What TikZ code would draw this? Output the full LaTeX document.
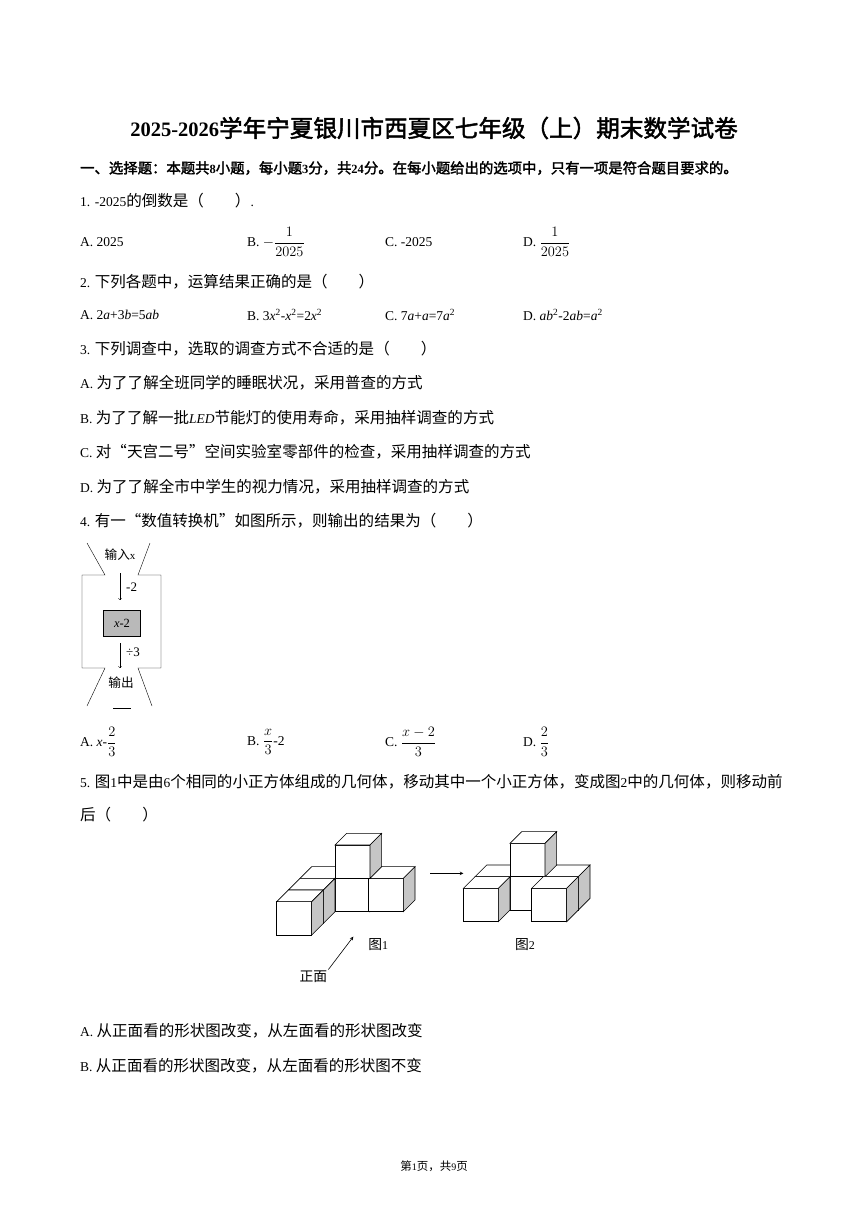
\documentclass[tikz,border=0pt]{standalone}
\usepackage{fontspec}
\setmainfont{Liberation Serif}
\newfontfamily\cjk[AutoFakeBold=2,Scale=1.15]{Noto Sans CJK SC}
\newcommand\mycube[2]{%
  \filldraw[fill=white] (#1,#2) rectangle ++(105,-100);
  \filldraw[fill=white] (#1,#2-100) -- ++(35,-35) -- ++(105,0) -- ++(-35,35) -- cycle;
  \filldraw[fill=gray!45] (#1+105,#2) -- ++(0,-100) -- ++(35,-35) -- ++(0,100) -- cycle;}
\tikzset{txt/.style={anchor=west,inner sep=0pt,font=\fontsize{13.5}{15}\selectfont}}
\begin{document}
\begin{tikzpicture}[x=1pt,y=-1pt]
\useasboundingbox[fill=white] (0,0) rectangle (868,1227);
\node[inner sep=0pt,font=\fontsize{20.5}{24}\selectfont\bfseries] (title) at (434,128) {2025-2026{\cjk 学年宁夏银川市西夏区七年级（上）期末数学试卷}};
\node[txt,font=\fontsize{12.5}{15}\selectfont\bfseries] (sec) at (80,168) {\cjk 一、选择题：本题共\rmfamily 8\cjk 小题，每小题\rmfamily 3\cjk 分，共\rmfamily 24\cjk 分。在每小题给出的选项中，只有一项是符合题目要求的。};
\node[txt] (q1) at (80,201) {1. -2025{\cjk 的倒数是（\quad\quad）}.};
\node[txt] (q1a) at (80,242) {A. 2025};
\node[txt] (q1b) at (247,242) {B. $-\displaystyle\frac{1}{2025}$};
\node[txt] (q1c) at (385,242) {C. -2025};
\node[txt] (q1d) at (523,242) {D. $\displaystyle\frac{1}{2025}$};
\node[txt] (q2) at (80,282) {2. {\cjk 下列各题中，运算结果正确的是（\quad\quad）}};
\node[txt] (q2a) at (80,315) {A. 2\textit{a}+3\textit{b}=5\textit{ab}};
\node[txt] (q2b) at (247,315) {B. 3\textit{x}\textsuperscript{2}-\textit{x}\textsuperscript{2}=2\textit{x}\textsuperscript{2}};
\node[txt] (q2c) at (385,315) {C. 7\textit{a}+\textit{a}=7\textit{a}\textsuperscript{2}};
\node[txt] (q2d) at (523,315) {D. \textit{ab}\textsuperscript{2}-2\textit{ab}=\textit{a}\textsuperscript{2}};
\node[txt] (q3) at (80,349) {3. {\cjk 下列调查中，选取的调查方式不合适的是（\quad\quad）}};
\node[txt] (q3a) at (80,383) {A. {\cjk 为了了解全班同学的睡眠状况，采用普查的方式}};
\node[txt] (q3b) at (80,418) {B. {\cjk 为了了解一批}\textit{LED}{\cjk 节能灯的使用寿命，采用抽样调查的方式}};
\node[txt] (q3c) at (80,452) {C. {\cjk 对“天宫二号”空间实验室零部件的检查，采用抽样调查的方式}};
\node[txt] (q3d) at (80,487) {D. {\cjk 为了了解全市中学生的视力情况，采用抽样调查的方式}};
\node[txt] (q4) at (80,521) {4. {\cjk 有一“数值转换机”如图所示，则输出的结果为（\quad\quad）}};
% flowchart
\draw (87,543) -- (105,575) -- (82,575) -- (82,668) -- (105,668) -- (87,706);
\draw (150,543) -- (138,575) -- (161,575) -- (161,668) -- (138,668) -- (152,706);
\node[inner sep=0pt,font=\fontsize{11}{14}\selectfont] (in) at (120,555) {{\cjk 输入}x};
\node[draw,fill=gray!55,minimum width=37pt,minimum height=26pt,inner sep=0pt,font=\fontsize{12.5}{14}\selectfont] (box) at (122,623) {\textit{x}-2};
\node[inner sep=0pt,font=\fontsize{11}{14}\selectfont] (out) at (121,683) {\cjk 输出};
\draw[->] (120,573) -- (120,600);
\node[txt,font=\fontsize{13}{14}\selectfont] (m2) at (126,587) {-2};
\draw[->] (120,643) -- (120,668);
\node[txt,font=\fontsize{13}{14}\selectfont] (d3) at (126,652) {÷3};
\draw (113,708) -- (131,708);
\node[txt] (q4a) at (80,742) {A. \textit{x}-$\displaystyle\frac{2}{3}$};
\node[txt] (q4b) at (247,742) {B. $\displaystyle\frac{x}{3}$-2};
\node[txt] (q4c) at (385,742) {C. $\displaystyle\frac{x-2}{3}$};
\node[txt] (q4d) at (523,742) {D. $\displaystyle\frac{2}{3}$};
\node[txt] (q5) at (80,782) {5. {\cjk 图\rmfamily 1\cjk 中是由\rmfamily 6\cjk 个相同的小正方体组成的几何体，移动其中一个小正方体，变成图\rmfamily 2\cjk 中的几何体，则移动前}};
\node[txt] (q5b) at (80,815) {\cjk 后（\quad\quad）};
% cubes
\begin{scope}[shift={(270,830)},scale=1/3,line width=0.6pt]
\mycube{90}{245}\mycube{195}{245}\mycube{295}{245}\mycube{195}{145}\mycube{55}{280}\mycube{20}{315}
\mycube{615}{240}\mycube{720}{240}\mycube{820}{240}\mycube{720}{140}\mycube{580}{275}\mycube{785}{275}
\draw[-stealth] (480,130) -- (580,130);
\node[font=\fontsize{12}{14}\selectfont] (f1) at (325,345) {\cjk 图\rmfamily 1};
\node[font=\fontsize{12}{14}\selectfont] (f2) at (765,345) {\cjk 图\rmfamily 2};
\node[font=\fontsize{12}{14}\selectfont,inner sep=1pt] (zm) at (130,440) {\cjk 正面};
\draw[-stealth] (zm.north east) -- (250,320);
\end{scope}
\node[txt] (q5ta) at (80,1031) {A. {\cjk 从正面看的形状图改变，从左面看的形状图改变}};
\node[txt] (q5tb) at (80,1066) {B. {\cjk 从正面看的形状图改变，从左面看的形状图不变}};
\node[inner sep=0pt,font=\fontsize{10}{12}\selectfont] (foot) at (434,1166) {{\cjk 第}1{\cjk 页，共}9{\cjk 页}};
\end{tikzpicture}
\end{document}
